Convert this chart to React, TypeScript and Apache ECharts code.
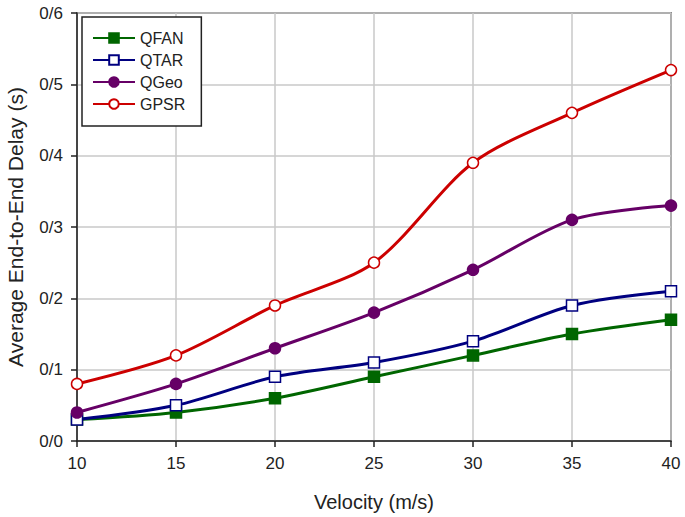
import React, { useEffect, useRef } from "react";
import * as echarts from "echarts";

const velocities = ["10", "15", "20", "25", "30", "35", "40"];
const qfan = [0.03, 0.04, 0.06, 0.09, 0.12, 0.15, 0.17];
const qtar = [0.03, 0.05, 0.09, 0.11, 0.14, 0.19, 0.21];
const qgeo = [0.04, 0.08, 0.13, 0.18, 0.24, 0.31, 0.33];
const gpsr = [0.08, 0.12, 0.19, 0.25, 0.39, 0.46, 0.52];

export default function App() {
  const ref = useRef<HTMLDivElement>(null);
  useEffect(() => {
    const chart = echarts.init(ref.current!, null, { renderer: "svg" });
    const font = "Liberation Sans, Arial, sans-serif";
    const mk = (name: string, data: number[], color: string, symbol: string, filled: boolean) => ({
      name,
      type: "line",
      data: velocities.map((v, i) => [Number(v), data[i]]),
      smooth: 0.3,
      symbol,
      symbolSize: 11,
      showAllSymbol: true,
      lineStyle: { color, width: 3 },
      itemStyle: { color: filled ? color : "#ffffff", borderColor: color, borderWidth: 1.5 },
      z: 3,
    });
    chart.setOption({
      animation: false,
      backgroundColor: "#ffffff",
      textStyle: { fontFamily: font },
      grid: {
        left: 77,
        right: 14,
        top: 13,
        bottom: 76,
        show: true,
        borderColor: "#333",
        borderWidth: 1.5,
        containLabel: false,
        outerBoundsMode: "none",
      },
      legend: {
        orient: "vertical",
        left: 82,
        top: 17,
        borderColor: "#222",
        borderWidth: 1.5,
        backgroundColor: "#ffffff",
        padding: [13, 16, 14, 10],
        itemGap: 6,
        itemWidth: 42,
        itemHeight: 12,
        textStyle: { fontSize: 16, color: "#222", fontFamily: font },
        data: ["QFAN", "QTAR", "QGeo", "GPSR"],
      },
      xAxis: {
        type: "value",
        min: 10,
        max: 40,
        interval: 5,
        name: "Velocity (m/s)",
        nameLocation: "middle",
        nameGap: 51,
        nameTextStyle: { fontSize: 20, color: "#222", fontFamily: font },
        axisLine: { lineStyle: { color: "#222", width: 1.5 } },
        axisTick: { show: true, length: 6, lineStyle: { color: "#222", width: 1.5 } },
        axisLabel: { fontSize: 17, color: "#222", margin: 14, fontFamily: font },
        splitLine: { show: true, lineStyle: { color: "#c8c8c8", width: 1.5 } },
      },
      yAxis: {
        type: "value",
        min: 0,
        max: 0.6,
        interval: 0.1,
        name: "Average End-to-End Delay (s)",
        nameLocation: "middle",
        nameGap: 51,
        nameTextStyle: { fontSize: 21, color: "#222", fontFamily: font },
        axisLine: { show: true, lineStyle: { color: "#222", width: 1.5 } },
        axisTick: { show: true, length: 6, lineStyle: { color: "#222", width: 1.5 } },
        axisLabel: {
          fontSize: 17,
          color: "#222",
          margin: 14,
          fontFamily: font,
          formatter: (v: number) => v.toFixed(1).replace(".", "/"),
        },
        splitLine: { show: true, lineStyle: { color: "#c8c8c8", width: 1.5 } },
      },
      series: [
        mk("QFAN", qfan, "#006600", "rect", true),
        mk("QTAR", qtar, "#000080", "rect", false),
        mk("QGeo", qgeo, "#660066", "circle", true),
        mk("GPSR", gpsr, "#cc0000", "circle", false),
      ],
    });
    return () => chart.dispose();
  }, []);
  return <div ref={ref} style={{ width: 685, height: 517, position: "absolute", left: 0, top: 0 }} />;
}
